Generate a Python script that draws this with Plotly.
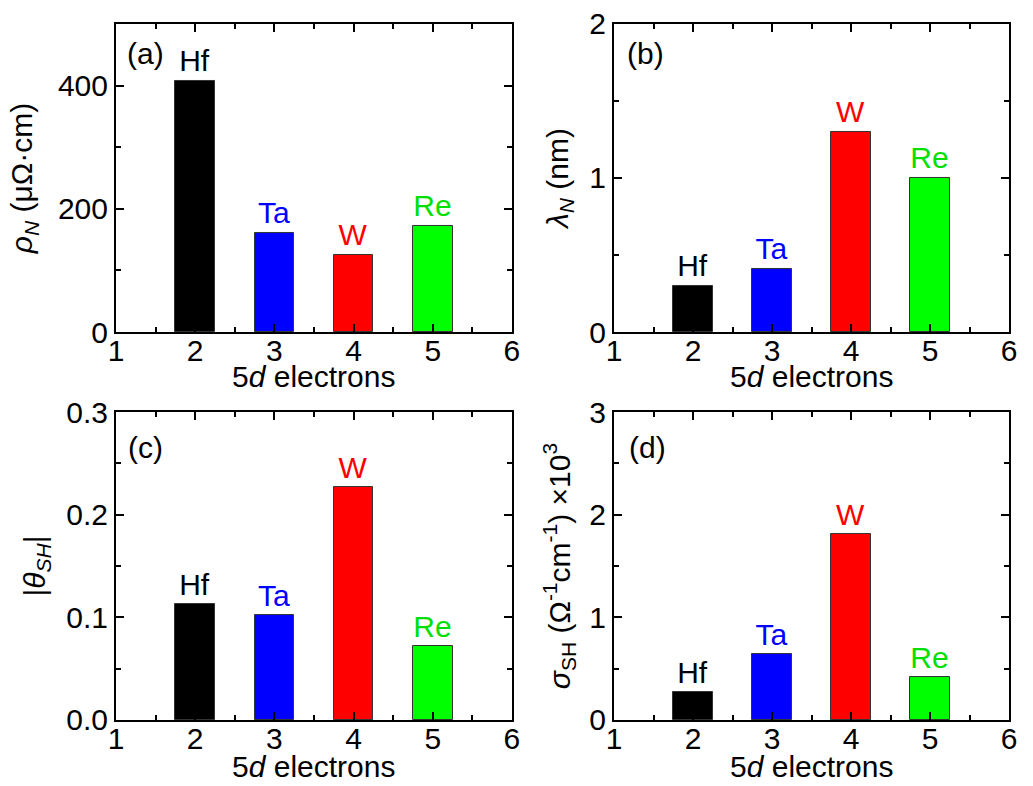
import plotly.graph_objects as go

# ---- data ----
elements = ["Hf", "Ta", "W", "Re"]
d_electrons = [2, 3, 4, 5]
rho_N = [407, 160, 125, 172]          # μΩ·cm
lambda_N = [0.30, 0.41, 1.30, 1.00]   # nm
theta_SH = [0.113, 0.102, 0.227, 0.072]
sigma_SH = [0.276, 0.643, 1.815, 0.416]  # (Ω^-1 cm^-1) x10^3
bar_colors = ["#000000", "#0000ff", "#ff0000", "#00ff00"]
text_colors = ["#000000", "#0000ff", "#ff0000", "#00e000"]
x_ticks = [1, 2, 3, 4, 5, 6]
x_title = "5<i>d</i> electrons"

FONT = "Liberation Sans, Arial, sans-serif"
FS = 30

panels = [
    dict(vals=rho_N, yrange=[0, 500], dtick=200, minor=100, standoff=16,
         ytitle="<i>ρ</i><sub><i>N</i></sub> (μΩ·cm)", label="(a)", fmt=None),
    dict(vals=lambda_N, yrange=[0, 2], dtick=1, minor=0.5, standoff=12,
         ytitle="<i>λ</i><sub><i>N</i></sub> (nm)", label="(b)", fmt=None),
    dict(vals=theta_SH, yrange=[0, 0.3], dtick=0.1, minor=0.05, standoff=12,
         ytitle="|<i>θ</i><sub><i>SH</i></sub>|", label="(c)", fmt=".1f"),
    dict(vals=sigma_SH, yrange=[0, 3], dtick=1, minor=0.5, standoff=10,
         ytitle="<i>σ</i><sub>SH</sub> (Ω<sup>-1</sup>cm<sup>-1</sup>) ×10<sup>3</sup>",
         label="(d)", fmt=None),
]

fig = go.Figure()
for i, p in enumerate(panels):
    n = "" if i == 0 else str(i + 1)
    fig.add_trace(go.Bar(
        x=d_electrons, y=p["vals"], width=0.5,
        marker=dict(color=bar_colors, line=dict(color="#333333", width=1)),
        text=elements, textposition="outside", constraintext="none",
        textfont=dict(family=FONT, size=FS, color=text_colors),
        cliponaxis=False, xaxis="x" + n, yaxis="y" + n, showlegend=False,
        hoverinfo="skip",
    ))

xdoms = [[0.1123, 0.4956], [0.5944, 0.9768], [0.1123, 0.4956], [0.5944, 0.9768]]
ydoms = [[0.5776, 0.9695], [0.5776, 0.9695], [0.0840, 0.4758], [0.0840, 0.4758]]
xtitle_y = [0.5207, 0.5207, 0.0246, 0.0246]

layout = dict(
    template="none",
    width=1033, height=786, margin=dict(l=0, r=0, t=0, b=0, autoexpand=False),
    paper_bgcolor="white", plot_bgcolor="white",
    font=dict(family=FONT, size=FS, color="black"),
    bargap=0,
)

axis_common = dict(
    automargin=False,
    showline=True, linecolor="black", linewidth=2, mirror="ticks",
    ticks="inside", ticklen=8, tickwidth=1.5, tickcolor="black",
    showgrid=False, zeroline=False,
    tickfont=dict(family=FONT, size=FS, color="black"),
)

for i, p in enumerate(panels):
    n = "" if i == 0 else str(i + 1)
    layout["xaxis" + n] = dict(
        axis_common, domain=xdoms[i], range=[1, 6], tickvals=x_ticks,
        anchor="y" + n, ticklabelstandoff=-9,
        minor=dict(ticks="inside", ticklen=5, tickwidth=1.5, dtick=0.5, tickcolor="black"),
    )
    ya = dict(
        axis_common, domain=ydoms[i], range=p["yrange"], tick0=0, dtick=p["dtick"],
        anchor="x" + n,
        minor=dict(ticks="inside", ticklen=5, tickwidth=1.5, dtick=p["minor"], tickcolor="black"),
        title=dict(text=p["ytitle"], standoff=p["standoff"], font=dict(family=FONT, size=FS)),
    )
    if p["fmt"]:
        ya["tickformat"] = p["fmt"]
    layout["yaxis" + n] = ya

fig.update_layout(**layout)

label_x = [0.023, 0.028, 0.025, 0.032]
label_y = [0.905, 0.905, 0.885, 0.885]
for i, p in enumerate(panels):
    n = "" if i == 0 else str(i + 1)
    fig.add_annotation(
        text=p["label"], x=label_x[i], y=label_y[i],
        xref="x" + n + " domain", yref="y" + n + " domain",
        xanchor="left", yanchor="middle", showarrow=False,
        font=dict(family=FONT, size=FS, color="black"),
    )
    fig.add_annotation(
        text=x_title, x=0.5, y=xtitle_y[i],
        xref="x" + n + " domain", yref="paper",
        xanchor="center", yanchor="middle", showarrow=False,
        font=dict(family=FONT, size=FS, color="black"),
    )

fig.write_html(
    "out.html",
    config={"displayModeBar": False},
    post_script="document.body.style.margin='0';document.body.style.overflow='hidden';",
)
